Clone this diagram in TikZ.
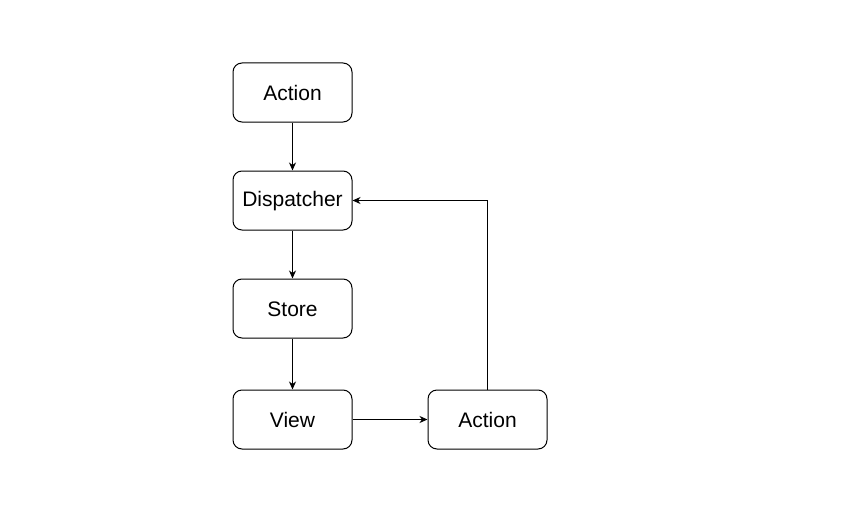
\documentclass[tikz,border=0pt]{standalone}
\usepackage{fontspec}
\setmainfont{Liberation Sans}
\usetikzlibrary{arrows.meta}
\begin{document}
\begin{tikzpicture}[x=1pt,y=-1pt,
  box/.style={draw=black, line width=1pt, rounded corners=9pt, minimum width=119pt, minimum height=59pt, inner sep=0pt, fill=white},
  lbl/.style={font=\fontsize{21}{25}\selectfont, inner sep=0pt},
  conn/.style={draw=black, line width=1pt, -{Stealth[length=8pt,width=7pt,inset=2.5pt]}}]
\useasboundingbox (0,0) rectangle (858,516);
\node[box] (a1) at (292.5,92.5) {};
\node[box] (d) at (292.5,200.5) {};
\node[box] (s) at (292.5,308.5) {};
\node[box] (v) at (292.5,419.5) {};
\node[box] (a2) at (487.5,419.5) {};
\node[lbl] (t1) at ([yshift=-0.3pt]a1.center) {Action};
\node[lbl] (t2) at ([yshift=-0.3pt]d.center) {Dispatcher};
\node[lbl] (t3) at ([yshift=-0.3pt]s.center) {Store};
\node[lbl] (t4) at ([yshift=-0.3pt]v.center) {View};
\node[lbl] (t5) at ([yshift=-0.3pt]a2.center) {Action};
\draw[conn] (a1) -- (d);
\draw[conn] (d) -- (s);
\draw[conn] (s) -- (v);
\draw[conn] (v) -- (a2);
\draw[conn] (a2.north) |- (d.east);
\end{tikzpicture}
\end{document}
